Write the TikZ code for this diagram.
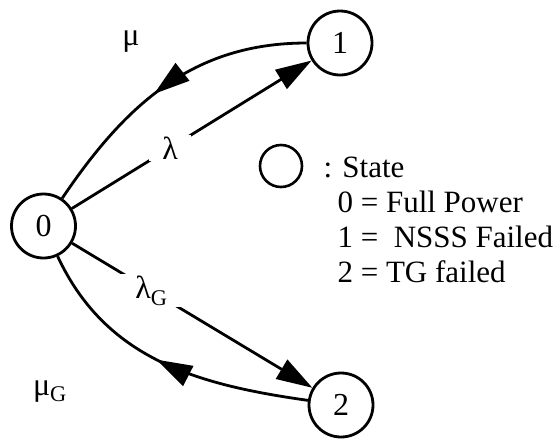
\documentclass[tikz,border=0pt]{standalone}
\usepackage{fontspec}
\setmainfont{Liberation Serif}
\usetikzlibrary{arrows.meta, decorations.markings}

\begin{document}
\begin{tikzpicture}[
	x=1pt, y=1pt,
	font=\fontsize{32}{38}\selectfont,
	state/.style={
		circle,
		draw,
		line width=2.8pt,
		minimum size=64pt,
		inner sep=0pt
	},
	rate/.style={-{Triangle[length=36pt, width=22pt]}, line width=2.8pt},
	repair/.style={
		line width=2.8pt,
		postaction={decorate},
		decoration={markings, mark=at position #1 with {\arrow{Triangle[length=36pt, width=22pt]}}}
	},
	repair/.default=0.5,
	gap/.style={fill=white, inner ysep=2pt},
	legend/.style={anchor=base west, font=\fontsize{31}{37}\selectfont}
]

	\useasboundingbox (0,0) rectangle (559,-440);

	\node[state] (full) at (43.5,-226) {0};
	\node[state] (nsss) at (340,-43) {1};
	\node[state] (tg) at (341,-405) {2};

	% failure rates
	\draw[rate] (full) -- node[gap, pos=0.41, inner xsep=13pt] {λ} (nsss);
	\draw[rate] (full) -- node[gap, pos=0.33, inner xsep=19pt] {λ\textsubscript{G}} (tg);

	% repair rates
	\draw[repair=0.54] (nsss) to[out=180, in=56] (full);
	\draw[repair=0.52] (tg) to[out=172, in=-65] (full);
	\node[anchor=base] (mu) at (131,-45) {μ};
	\node[anchor=base] (muG) at (50,-395) {μ\textsubscript{G}};

	% legend
	\node[circle, draw, line width=2.6pt, minimum size=42pt] (key) at (281,-166) {};
	\node[legend] (keytext) at (320,-177) {: State};
	\node[legend] (s0) at (334,-212) {0 = Full Power};
	\node[legend] (s1) at (334,-247) {1 =~~NSSS Failed};
	\node[legend] (s2) at (334,-282) {2 = TG failed};

\end{tikzpicture}
\end{document}
